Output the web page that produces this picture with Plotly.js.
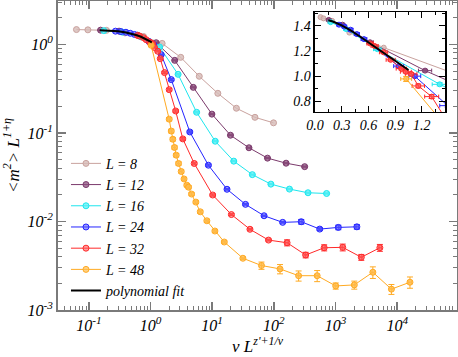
<!DOCTYPE html>
<html>
<head>
<meta charset="utf-8">
<script src="https://cdn.plot.ly/plotly-3.0.1.min.js"></script>
<style>
  body { margin: 0; background: #fff; }
  #myDiv { width: 458px; height: 357px; }
</style>
</head>
<body>
<div id="myDiv"></div>
<script>
// scaling variable x = v L^(z'+1/nu), y = <m^2> L^(1+eta)
var L8_x = [0.063, 0.0965, 0.193, 0.386, 0.772, 1.544, 3.09, 6.18, 12.35, 24.7, 49.4, 98.8];
var L8_y = [1.47, 1.46, 1.44, 1.347, 1.227, 1.026, 0.714, 0.436, 0.280, 0.190, 0.150, 0.130];

var L12_x = [0.155, 0.309, 0.618, 1.236, 2.47, 4.94, 9.9, 19.8, 39.5, 79, 158, 316];
var L12_y = [1.448, 1.41, 1.27, 1.044, 0.66, 0.327, 0.163, 0.0942, 0.068, 0.0519, 0.0455, 0.0416];
var L12_err = [0.008, 0.008, 0.008, 0.01, 0.008, 0.004, 0.002, 0.001, 0.0008, 0.0006, 0.0006, 0.0006];

var L16_x = [0.175, 0.35, 0.70, 1.40, 2.8, 5.6, 11.2, 22.4, 44.8, 89.6, 179, 358, 717];
var L16_y = [1.43, 1.375, 1.215, 0.935, 0.459, 0.171, 0.0806, 0.048, 0.0338, 0.0264, 0.0232, 0.0211, 0.0207];
var L16_err = [0.01, 0.01, 0.01, 0.012, 0.008, 0.003, 0.0012, 0.0006, 0.0004, 0.0003, 0.0003, 0.0003, 0.0003];

var L24_x = [0.27, 0.33, 0.40, 0.47, 0.55, 0.94, 1.12, 1.49, 2.17, 4.34, 8.68, 17.4, 34.7, 69.4, 139, 278, 555, 1110, 2220];
var L24_y = [1.41, 1.395, 1.37, 1.335, 1.295, 1.08, 1.0, 0.765, 0.40, 0.1026, 0.0432, 0.0231, 0.0156, 0.0116, 0.00977, 0.00993, 0.0082, 0.00857, 0.0087];
var L24_err = [0.01, 0.01, 0.01, 0.01, 0.01, 0.01, 0.012, 0.012, 0.01, 0.003, 0.0012, 0.0005, 0.0003, 0.0002, 0.0002, 0.0006, 0.0003, 0.0005, 0.0005];

var L32_x = [0.62, 0.67, 0.77, 0.85, 0.97, 1.02, 1.08, 1.16, 1.31, 1.44, 1.69, 2.01, 2.56, 3.34, 5.12, 10.2, 20.5, 41, 82, 164, 328, 655, 1310, 2620, 5240];
var L32_y = [1.26, 1.24, 1.19, 1.13, 1.06, 1.035, 1.018, 0.922, 0.837, 0.69, 0.48, 0.308, 0.177, 0.0856, 0.0452, 0.0199, 0.01197, 0.00816, 0.00616, 0.00575, 0.00418, 0.00505, 0.0051, 0.00394, 0.00505];
var L32_err = [0.01, 0.01, 0.01, 0.01, 0.01, 0.01, 0.01, 0.015, 0.015, 0.015, 0.012, 0.01, 0.006, 0.003, 0.0015, 0.0006, 0.0003, 0.0002, 0.00015, 0.00045, 0.0003, 0.0004, 0.00045, 0.0003, 0.00045];

var L48_x = [1.024, 2.01, 2.17, 2.30, 2.45, 2.61, 2.85, 3.15, 3.50, 3.88, 4.14, 4.63, 5.44, 6.41, 8.20, 11.07, 15.7, 31.5, 63, 126, 252, 504, 1008, 2016, 4032, 8064, 16128];
var L48_y = [0.978, 0.143, 0.105, 0.0849, 0.0685, 0.0561, 0.0452, 0.0367, 0.0302, 0.0257, 0.0244, 0.0204, 0.01655, 0.01286, 0.01018, 0.0078, 0.00586, 0.00384, 0.00318, 0.00291, 0.00244, 0.00244, 0.00187, 0.00192, 0.00267, 0.00172, 0.00206];
var L48_err = [0.02, 0.006, 0.005, 0.004, 0.003, 0.0025, 0.002, 0.0015, 0.0012, 0.001, 0.001, 0.0008, 0.0006, 0.0005, 0.0004, 0.0003, 0.0002, 0.00012, 0.0003, 0.00035, 0.00032, 0.00035, 0.00015, 0.0002, 0.0004, 0.00022, 0.0003];

var fit_x = [0.15, 0.2, 0.3, 0.4, 0.5, 0.6, 0.7, 0.8, 0.9, 1.0, 1.05];
var fit_y = [1.445, 1.435, 1.405, 1.365, 1.318, 1.268, 1.220, 1.170, 1.120, 1.073, 1.049];

var xTickVals = [0.1, 1, 10, 100, 1000, 10000];
var xTickText = ['10<sup>-1</sup>', '10<sup>0</sup>', '10<sup>1</sup>', '10<sup>2</sup>', '10<sup>3</sup>', '10<sup>4</sup>'];
var yTickVals = [0.001, 0.01, 0.1, 1];
var yTickText = ['10<sup>-3</sup>', '10<sup>-2</sup>', '10<sup>-1</sup>', '10<sup>0</sup>'];

var series = [
	{name: 'L = 8', x: L8_x, y: L8_y, err: null, color: '#c9a29e', fill: 'rgba(214,186,183,0.8)'},
	{name: 'L = 12', x: L12_x, y: L12_y, err: L12_err, color: '#7b3a6c', fill: 'rgba(140,80,125,0.75)'},
	{name: 'L = 16', x: L16_x, y: L16_y, err: L16_err, color: '#1ee6ee', fill: 'rgba(90,240,245,0.75)'},
	{name: 'L = 24', x: L24_x, y: L24_y, err: L24_err, color: '#2424ff', fill: 'rgba(90,90,255,0.6)'},
	{name: 'L = 32', x: L32_x, y: L32_y, err: L32_err, color: '#ff2a2a', fill: 'rgba(255,90,90,0.6)'},
	{name: 'L = 48', x: L48_x, y: L48_y, err: L48_err, color: '#ffaa22', fill: 'rgba(255,190,80,0.7)'}
];

var data = [];
function addSeries(s, inset) {
	var tr = {
		x: s.x,
		y: s.y,
		name: '<i>' + s.name + '</i>',
		type: 'scatter',
		mode: 'lines+markers',
		line: {color: s.color, width: 1},
		marker: {size: inset ? 5 : 6, color: s.fill, line: {color: s.color, width: 1}},
		showlegend: !inset
	};
	if (s.err) {
		tr.error_y = {type: 'data', array: s.err, color: s.color, thickness: 1, width: 3};
		tr.error_x = {type: 'percent', value: 6, color: s.color, thickness: 1, width: 2};
	}
	if (inset) {
		tr.xaxis = 'x2';
		tr.yaxis = 'y2';
	}
	data.push(tr);
}
series.forEach(function (s) { addSeries(s, false); });
data.push({x: fit_x, y: fit_y, name: '<i>polynomial fit</i>', type: 'scatter', mode: 'lines',
	line: {color: '#000', width: 2}});
series.forEach(function (s) { addSeries(s, true); });
data.push({x: fit_x, y: fit_y, type: 'scatter', mode: 'lines', showlegend: false,
	line: {color: '#000', width: 2}, xaxis: 'x2', yaxis: 'y2'});

var frame = '#7a7a7a';
var serif = 'Liberation Serif';

var layout = {
	width: 458,
	height: 357,
	margin: {l: 58, r: 1, t: 1, b: 47},
	font: {family: serif, size: 15, color: '#000'},
	showlegend: true,
	legend: {
		x: 0.02, y: 0.525, xanchor: 'left', yanchor: 'top',
		bgcolor: 'rgba(0,0,0,0)', font: {family: serif, size: 14}
	},
	xaxis: {
		type: 'log',
		range: [-1.5, 4.97],
		tickmode: 'array', tickvals: xTickVals, ticktext: xTickText,
		ticks: 'inside', ticklen: 8, tickwidth: 1.5, tickcolor: frame,
		minor: {ticks: 'inside', ticklen: 4, tickwidth: 1, tickcolor: frame, dtick: 'D1', showgrid: false},
		showline: true, linecolor: frame, linewidth: 2, mirror: 'ticks',
		showgrid: false, zeroline: false,
		tickfont: {family: serif, size: 16, style: 'italic'},
		title: {text: '<i>v L<sup>z\'+1/ν</sup></i>', font: {family: serif, size: 17}, standoff: 6}
	},
	yaxis: {
		type: 'log',
		range: [-3, 0.49],
		tickmode: 'array', tickvals: yTickVals, ticktext: yTickText,
		ticks: 'inside', ticklen: 8, tickwidth: 1.5, tickcolor: frame,
		minor: {ticks: 'inside', ticklen: 4, tickwidth: 1, tickcolor: frame, dtick: 'D1', showgrid: false},
		showline: true, linecolor: frame, linewidth: 2, mirror: 'ticks',
		showgrid: false, zeroline: false,
		tickfont: {family: serif, size: 16, style: 'italic'},
		title: {text: '<i>&lt;m<sup>2</sup>&gt; L<sup>1+η</sup></i>', font: {family: serif, size: 17}, standoff: 4}
	},
	xaxis2: {
		domain: [0.644, 0.970], anchor: 'y2',
		range: [0, 1.46], dtick: 0.3, tickformat: '.1f',
		ticks: 'inside', ticklen: 6, tickcolor: '#000',
		minor: {ticks: 'inside', ticklen: 3, dtick: 0.15, tickcolor: '#000'},
		showline: true, linecolor: '#000', linewidth: 1.5, mirror: 'ticks',
		showgrid: false, zeroline: false,
		tickfont: {family: serif, size: 14, style: 'italic'}
	},
	yaxis2: {
		domain: [0.641, 0.964], anchor: 'x2',
		range: [0.715, 1.51], dtick: 0.2, tickformat: '.1f',
		ticks: 'inside', ticklen: 6, tickcolor: '#000',
		minor: {ticks: 'inside', ticklen: 3, dtick: 0.1, tickcolor: '#000'},
		showline: true, linecolor: '#000', linewidth: 1.5, mirror: 'ticks',
		showgrid: false, zeroline: false,
		tickfont: {family: serif, size: 14, style: 'italic'}
	},
	plot_bgcolor: '#fff',
	paper_bgcolor: '#fff'
};

Plotly.newPlot('myDiv', data, layout, {displayModeBar: false, staticPlot: true});
</script>
</body>
</html>
